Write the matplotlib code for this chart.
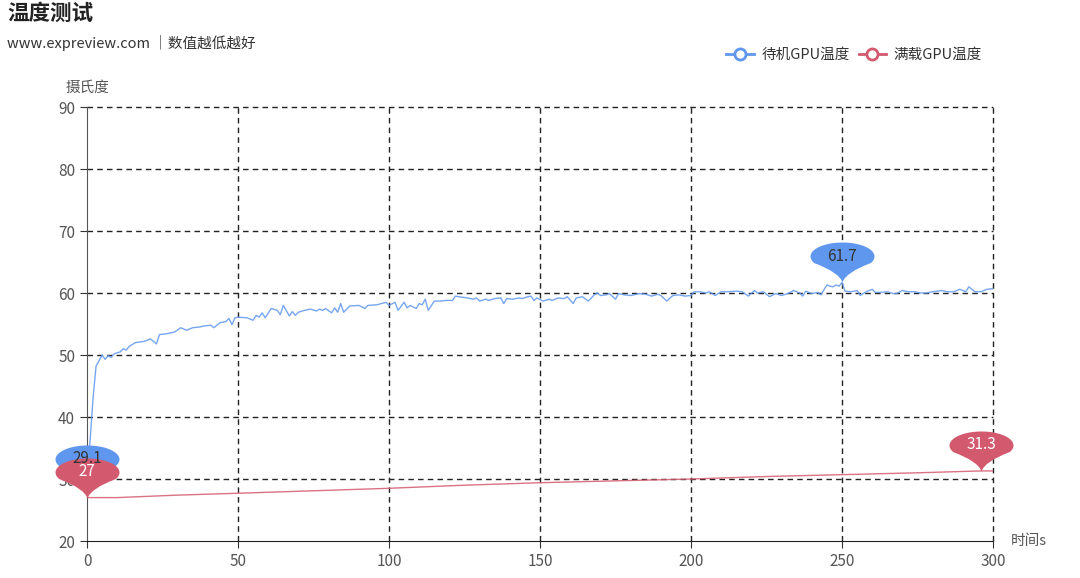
import matplotlib
matplotlib.use("Agg")
import matplotlib.pyplot as plt
from matplotlib.path import Path
from matplotlib.lines import Line2D
import numpy as np

plt.rcParams['font.family'] = ['Noto Sans CJK SC', 'DejaVu Sans']

# idle GPU temperature (time s, degC)
idle_t = [0, 2, 3, 4, 5, 6, 7, 8, 9, 11,
          12, 13, 14, 16, 19, 21, 23, 24, 26, 29,
          31, 33, 35, 37, 39, 41, 42, 44, 46, 47,
          48, 49, 50, 53, 55, 56, 57, 58, 59, 61,
          63, 64, 65, 67, 68, 69, 70, 72, 74, 76,
          77, 78, 79, 81, 82, 83, 84, 85, 87, 90,
          92, 93, 96, 99, 100, 102, 103, 105, 106, 107,
          109, 110, 111, 112, 113, 115, 117, 119, 121, 122,
          123, 126, 128, 129, 130, 132, 133, 135, 137, 138,
          139, 141, 143, 144, 146, 147, 148, 149, 151, 153,
          154, 156, 158, 159, 161, 162, 164, 166, 168, 169,
          170, 172, 173, 175, 176, 178, 180, 183, 185, 187,
          189, 190, 192, 194, 196, 198, 200, 201, 203, 205,
          206, 208, 210, 212, 215, 217, 219, 221, 222, 224,
          226, 228, 230, 232, 234, 236, 237, 238, 240, 242,
          243, 245, 246, 247, 248, 249, 250, 251, 253, 255,
          256, 258, 260, 261, 263, 265, 267, 268, 270, 272,
          274, 276, 278, 280, 283, 285, 287, 289, 291, 292,
          294, 296, 298, 300]
idle_v = [29.1, 43.0, 48.2, 49.1, 50.0, 49.3, 49.9, 49.6, 50.2, 50.5,
          51.0, 50.8, 51.4, 52.0, 52.2, 52.6, 51.8, 53.3, 53.4, 53.7,
          54.4, 54.0, 54.4, 54.5, 54.7, 54.8, 54.4, 55.2, 55.4, 55.9,
          54.9, 56.0, 56.1, 56.0, 55.6, 56.4, 56.1, 56.8, 56.0, 57.5,
          57.2, 56.5, 58.0, 56.3, 57.0, 56.4, 56.9, 57.2, 57.4, 57.1,
          57.4, 57.2, 57.5, 56.8, 57.6, 56.9, 58.3, 56.9, 57.9, 58.0,
          57.5, 58.0, 58.1, 58.5, 58.0, 58.5, 57.2, 58.5, 57.6, 58.0,
          57.5, 58.3, 58.1, 59.0, 57.2, 58.7, 58.7, 58.8, 58.8, 59.5,
          59.4, 59.2, 59.0, 59.2, 58.7, 59.0, 58.8, 59.1, 59.2, 58.3,
          59.1, 59.0, 59.2, 59.1, 59.4, 59.5, 58.8, 59.2, 58.7, 59.0,
          58.8, 59.2, 59.1, 59.4, 58.3, 59.2, 59.4, 58.7, 59.7, 60.0,
          59.6, 59.7, 59.9, 59.0, 59.9, 59.7, 59.6, 59.9, 59.8, 59.5,
          59.8, 59.6, 58.7, 59.6, 59.7, 59.5, 59.6, 60.2, 60.2, 60.0,
          60.2, 59.6, 60.2, 60.2, 60.3, 60.2, 59.5, 60.4, 60.0, 60.2,
          59.4, 59.9, 59.6, 59.9, 60.4, 60.0, 59.5, 60.3, 59.9, 60.1,
          59.7, 61.3, 61.1, 61.0, 61.3, 61.1, 61.7, 60.3, 60.2, 60.4,
          59.6, 60.2, 60.6, 60.1, 60.1, 60.2, 59.9, 59.9, 60.4, 60.2,
          60.2, 60.0, 60.0, 60.2, 60.4, 60.2, 60.2, 60.6, 60.2, 61.0,
          60.2, 60.2, 60.6, 60.7]

# full load GPU temperature
load_t = [0, 10, 30, 50, 75, 100, 125, 150, 175, 200, 225, 250, 275, 296, 300]
load_v = [27.0, 27.0, 27.4, 27.7, 28.1, 28.5, 29.0, 29.4, 29.7, 30.0, 30.4, 30.7, 31.0, 31.3, 31.3]

x_ticks = [0, 50, 100, 150, 200, 250, 300]
y_ticks = [20, 30, 40, 50, 60, 70, 80, 90]

blue = '#5f97ef'
red = '#d35a6e'


def pin_path():
    # balloon shaped pin, tip at origin (units: px)
    a, b, c = 32.0, 14.0, 26.0
    ang = np.radians(np.linspace(-28, 208, 60))
    xs = a * np.cos(ang)
    ys = c + b * np.sin(ang)
    verts = [(xs[0], ys[0])]
    codes = [Path.MOVETO]
    for px, py in zip(xs[1:], ys[1:]):
        verts.append((px, py))
        codes.append(Path.LINETO)
    verts += [(-3, 10), (0, 0), (3, 10), (xs[0], ys[0]), (xs[0], ys[0])]
    codes += [Path.CURVE3, Path.CURVE3, Path.CURVE3, Path.CURVE3, Path.CLOSEPOLY]
    return Path(verts, codes)


PIN = pin_path()

fig = plt.figure(figsize=(10.8, 5.78), dpi=100)
ax = fig.add_axes([87 / 1080, 1 - 541 / 578, (993 - 87) / 1080, (541 - 107) / 578])

ax.plot(idle_t, idle_v, color=blue, lw=1, alpha=0.85)
ax.plot(load_t, load_v, color=red, lw=1, alpha=0.85)

ax.set_xlim(0, 300)
ax.set_ylim(20, 90)
ax.set_xticks(x_ticks)
ax.set_yticks(y_ticks)
ax.grid(True, color='#222222', linestyle=(0, (4, 3)), lw=1)
ax.set_axisbelow(True)
for gl in ax.get_xgridlines() + ax.get_ygridlines():
    gl.set_clip_on(False)
# no dashed line on top of the axis lines
ax.get_xgridlines()[0].set_visible(False)
ax.get_ygridlines()[0].set_visible(False)
for s in ['top', 'right']:
    ax.spines[s].set_visible(False)
ax.spines['left'].set_color('#555555')
ax.spines['bottom'].set_color('#222222')
ax.tick_params(axis='both', colors='#333333', labelcolor='#555555',
               labelsize=11, length=5)


def add_pin(x, y, color, txtcolor, label):
    ax.plot([x], [y], marker=PIN, markersize=2 * 40 * 0.72, color=color,
            markeredgewidth=0, linestyle='none', clip_on=False, zorder=5)
    ax.annotate(label, (x, y), xytext=(0, 26 * 0.72), textcoords='offset points',
                ha='center', va='center', fontsize=11, color=txtcolor, zorder=6,
                annotation_clip=False)


i_max = idle_v.index(max(idle_v))
i_min = idle_v.index(min(idle_v))
l_max = load_v.index(max(load_v))
l_min = load_v.index(min(load_v))
add_pin(idle_t[i_max], idle_v[i_max], blue, '#333333', '%g' % idle_v[i_max])
add_pin(idle_t[i_min], idle_v[i_min], blue, '#333333', '%g' % idle_v[i_min])
add_pin(load_t[l_max], load_v[l_max], red, 'white', '%g' % load_v[l_max])
add_pin(load_t[l_min], load_v[l_min], red, 'white', '%g' % load_v[l_min])

fig.text(7 / 1080, 1 - 3 / 578, '温度测试', fontsize=15.5, weight='bold', color='#222222',
         ha='left', va='top')
fig.text(7 / 1080, 1 - 43 / 578, 'www.expreview.com ｜数值越低越好', fontsize=10.5,
         color='#333333', ha='left', va='center')
fig.text(87 / 1080, 1 - 88 / 578, '摄氏度', fontsize=10.5, color='#555555',
         ha='center', va='center')
fig.text(1011 / 1080, 1 - 541 / 578, '时间s', fontsize=10.5, color='#555555',
         ha='left', va='center')

handles = [Line2D([], [], color=blue, lw=2, marker='o', markersize=8,
                  markerfacecolor='white', markeredgewidth=2),
           Line2D([], [], color=red, lw=2, marker='o', markersize=8,
                  markerfacecolor='white', markeredgewidth=2)]
fig.legend(handles, ['待机GPU温度', '满载GPU温度'], loc='center right',
           bbox_to_anchor=(995 / 1080, 1 - 55 / 578), ncol=2, frameon=False,
           fontsize=10.5, handlelength=1.9, handletextpad=0.5, columnspacing=0.6,
           labelcolor='#333333')

fig.savefig('out.png', dpi=100)
